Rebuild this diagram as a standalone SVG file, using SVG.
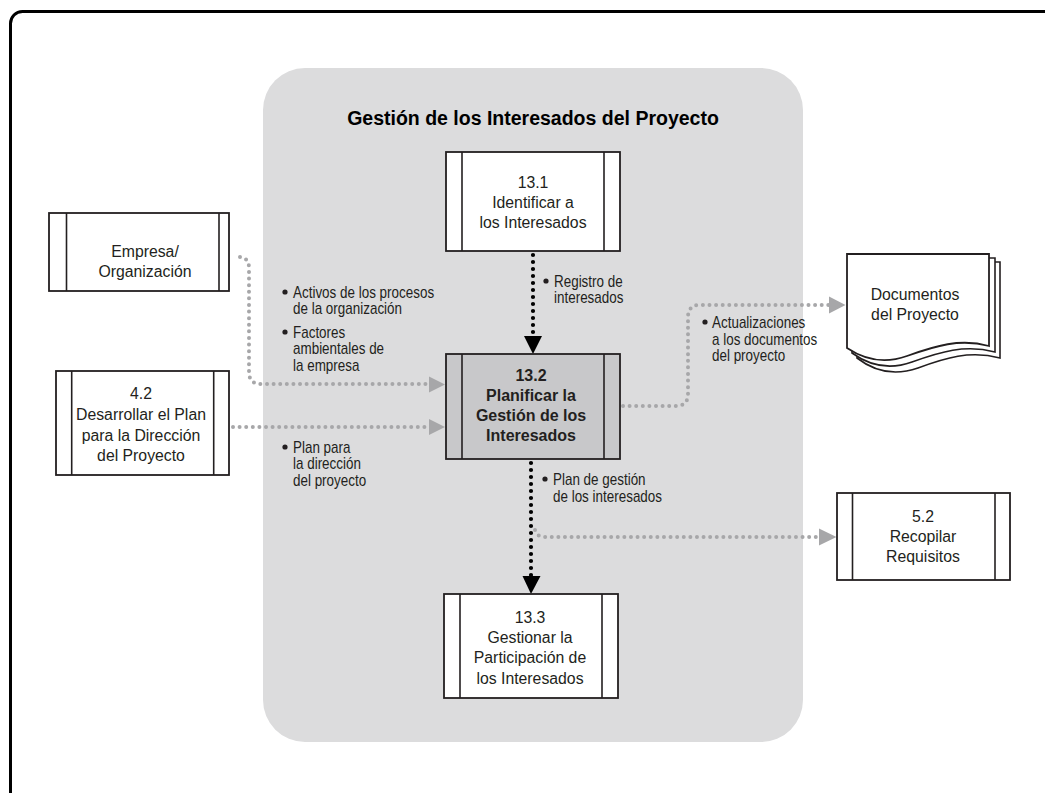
<svg xmlns="http://www.w3.org/2000/svg" width="1045" height="793" viewBox="0 0 1045 793">
<defs>
<style>
text{font-family:"Liberation Sans",Arial,sans-serif;fill:#231f20;}
.t{font-size:15.8px;text-anchor:middle;}
.b{font-size:16px;text-anchor:middle;font-weight:bold;}
.l{font-size:16px;}
.box{fill:#fff;stroke:#231f20;stroke-width:1.8;}
.gbox{fill:#c8c8ca;stroke:#231f20;stroke-width:1.8;}
.in{stroke:#231f20;stroke-width:1.6;}
.gd{fill:none;stroke:#a7a7a9;stroke-width:4;stroke-linecap:round;stroke-dasharray:0 6.6;}
.kd{fill:none;stroke:#000;stroke-width:4.2;stroke-linecap:round;stroke-dasharray:0 7;}
.ga{fill:#a7a7a9;}
.ka{fill:#000;}
.dot{fill:#231f20;}
</style>
</defs>
<rect x="10.5" y="11.5" width="1100" height="900" rx="12" fill="#fff" stroke="#000" stroke-width="3"/>
<rect x="263" y="68" width="540" height="674" rx="42" fill="#dcdcdd"/>
<text x="533" y="125" style="font-family:'Liberation Sans',Arial,sans-serif;font-size:19.5px;font-weight:bold;text-anchor:middle;fill:#000">Gestión de los Interesados del Proyecto</text>

<g id="connectors">
<path class="gd" d="M240,257 Q249,258 249,268 V372 Q249,384 261,384 H428"/>
<polygon class="ga" points="445,384.5 429,376.5 429,392.5"/>
<path class="gd" d="M233,427 H428"/>
<polygon class="ga" points="445,427 429,419 429,435"/>
<path class="kd" d="M533,255 V336"/>
<polygon class="ka" points="533,354 524,336 542,336"/>
<path class="kd" d="M531,463 V576"/>
<polygon class="ka" points="531,594 522.5,576 540.5,576"/>
<path class="gd" d="M535,530 Q537,537 545,537 H818"/>
<polygon class="ga" points="836.5,537 819,528.5 819,545.5"/>
<path class="gd" d="M623,406 H676 Q688,406 688,394 V317 Q688,305 700,305 H829"/>
<polygon class="ga" points="845.5,305 829,296.5 829,313.5"/>
</g>

<g id="n131">
<rect class="box" x="446" y="152" width="174" height="99"/>
<line class="in" x1="462" y1="152" x2="462" y2="251"/>
<line class="in" x1="604" y1="152" x2="604" y2="251"/>
<text class="t" x="533" y="188">13.1</text>
<text class="t" x="533" y="208">Identificar a</text>
<text class="t" x="533" y="228">los Interesados</text>
</g>

<g id="nEmpresa">
<rect class="box" x="49" y="213" width="180" height="78"/>
<line class="in" x1="66.5" y1="213" x2="66.5" y2="291"/>
<line class="in" x1="219" y1="213" x2="219" y2="291"/>
<text class="t" x="145" y="257">Empresa/</text>
<text class="t" x="145" y="277">Organización</text>
</g>

<g id="n42">
<rect class="box" x="56" y="371" width="173" height="104"/>
<line class="in" x1="71.7" y1="371" x2="71.7" y2="475"/>
<line class="in" x1="213.7" y1="371" x2="213.7" y2="475"/>
<text class="t" x="141" y="399">4.2</text>
<text class="t" x="141" y="420">Desarrollar el Plan</text>
<text class="t" x="141" y="441">para la Dirección</text>
<text class="t" x="141" y="461">del Proyecto</text>
</g>

<g id="n132">
<rect class="gbox" x="446" y="354" width="174" height="105"/>
<line class="in" x1="462" y1="354" x2="462" y2="459"/>
<line class="in" x1="604" y1="354" x2="604" y2="459"/>
<text class="b" x="531" y="381">13.2</text>
<text class="b" x="531" y="401">Planificar la</text>
<text class="b" x="531" y="421">Gestión de los</text>
<text class="b" x="531" y="441">Interesados</text>
</g>

<g id="n133">
<rect class="box" x="444" y="594" width="174" height="104"/>
<line class="in" x1="460" y1="594" x2="460" y2="698"/>
<line class="in" x1="602" y1="594" x2="602" y2="698"/>
<text class="t" x="530" y="623">13.3</text>
<text class="t" x="530" y="643">Gestionar la</text>
<text class="t" x="530" y="663">Participación de</text>
<text class="t" x="530" y="684">los Interesados</text>
</g>

<g id="n52">
<rect class="box" x="837" y="493" width="173" height="87"/>
<line class="in" x1="852.5" y1="493" x2="852.5" y2="580"/>
<line class="in" x1="995" y1="493" x2="995" y2="580"/>
<text class="t" x="923" y="522">5.2</text>
<text class="t" x="923" y="542">Recopilar</text>
<text class="t" x="923" y="562">Requisitos</text>
</g>

<g id="nDocs">
<path d="M857,262 H1000 V358 C970,350 945,358 918,368 C895,376 875,372 857,358 Z" fill="#fff" stroke="#231f20" stroke-width="1.6"/>
<path d="M852,258 H995 V352 C965,344 940,352 912,362 C890,370 870,366 852,353 Z" fill="#fff" stroke="#231f20" stroke-width="1.6"/>
<path d="M847,254 H989 V346 C960,338 935,346 907,356 C885,364 865,360 847,348 Z" fill="#fff" stroke="#231f20" stroke-width="1.8"/>
<text class="t" x="915" y="300">Documentos</text>
<text class="t" x="915" y="320">del Proyecto</text>
</g>

<g id="labels">
<circle class="dot" cx="285" cy="292" r="2.6"/>
<text class="l" transform="translate(293,298) scale(0.84,1)">Activos de los procesos</text>
<text class="l" transform="translate(293,314) scale(0.84,1)">de la organización</text>
<circle class="dot" cx="285" cy="332" r="2.6"/>
<text class="l" transform="translate(293,338) scale(0.84,1)">Factores</text>
<text class="l" transform="translate(293,354) scale(0.84,1)">ambientales de</text>
<text class="l" transform="translate(293,371) scale(0.84,1)">la empresa</text>

<circle class="dot" cx="546" cy="281" r="2.6"/>
<text class="l" transform="translate(554,287) scale(0.84,1)">Registro de</text>
<text class="l" transform="translate(554,303) scale(0.84,1)">interesados</text>

<circle class="dot" cx="705" cy="322" r="2.6"/>
<text class="l" transform="translate(712,328) scale(0.84,1)">Actualizaciones</text>
<text class="l" transform="translate(712,345) scale(0.84,1)">a los documentos</text>
<text class="l" transform="translate(712,361) scale(0.84,1)">del proyecto</text>

<circle class="dot" cx="285" cy="447" r="2.6"/>
<text class="l" transform="translate(293,453) scale(0.84,1)">Plan para</text>
<text class="l" transform="translate(293,469) scale(0.84,1)">la dirección</text>
<text class="l" transform="translate(293,486) scale(0.84,1)">del proyecto</text>

<circle class="dot" cx="545" cy="479" r="2.6"/>
<text class="l" transform="translate(553,485) scale(0.84,1)">Plan de gestión</text>
<text class="l" transform="translate(553,502) scale(0.84,1)">de los interesados</text>
</g>
</svg>
